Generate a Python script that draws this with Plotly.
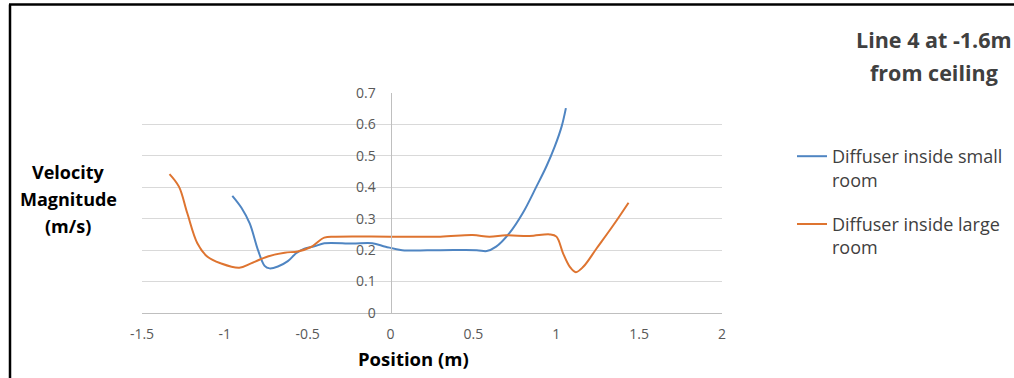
import plotly.graph_objects as go

# Data
small_x = [-0.955, -0.90, -0.85, -0.80, -0.76, -0.73, -0.68, -0.62, -0.57, -0.52, -0.46, -0.40, -0.23, -0.11, -0.03, 0.07, 0.30, 0.52, 0.58, 0.637, 0.717, 0.798, 0.88, 0.94, 0.991, 1.032, 1.058]
small_y = [0.373, 0.335, 0.285, 0.200, 0.150, 0.142, 0.148, 0.165, 0.190, 0.205, 0.212, 0.222, 0.221, 0.222, 0.211, 0.200, 0.200, 0.200, 0.197, 0.211, 0.254, 0.318, 0.402, 0.466, 0.530, 0.593, 0.652]

large_x = [-1.334, -1.277, -1.227, -1.166, -1.105, -1.024, -0.913, -0.842, -0.741, -0.639, -0.56, -0.48, -0.40, -0.33, 0.0, 0.30, 0.495, 0.596, 0.697, 0.839, 0.961, 1.001, 1.041, 1.082, 1.118, 1.163, 1.244, 1.345, 1.436]
large_y = [0.442, 0.402, 0.318, 0.222, 0.179, 0.158, 0.144, 0.158, 0.180, 0.192, 0.196, 0.210, 0.240, 0.243, 0.243, 0.243, 0.248, 0.243, 0.247, 0.245, 0.250, 0.243, 0.190, 0.147, 0.130, 0.147, 0.206, 0.280, 0.351]

x_ticks = [-1.5, -1, -0.5, 0, 0.5, 1, 1.5, 2]
x_tick_labels = ["-1.5", "-1", "-0.5", "0", "0.5", "1", "1.5", "2"]
y_ticks = [0, 0.1, 0.2, 0.3, 0.4, 0.5, 0.6, 0.7]
y_tick_labels = ["0", "0.1", "0.2", "0.3", "0.4", "0.5", "0.6", "0.7"]

series_names = ["Diffuser inside small<br>room", "Diffuser inside large<br>room"]
colors = ["#4F85C2", "#DE7430"]

W, H = 1014, 378
L, R, T, B = 142, 292, 93, 65
pw, ph = W - L - R, H - T - B

def px(xp):
    return (xp - L) / pw

def py(yp):
    return (H - B - yp) / ph

FONT = "Open Sans"

fig = go.Figure()
fig.add_trace(go.Scatter(x=small_x, y=small_y, mode="lines", name=series_names[0], legendgroup="a",
                         line=dict(color=colors[0], width=2, shape="spline", smoothing=1.0)))
fig.add_trace(go.Scatter(x=large_x, y=large_y, mode="lines", name=series_names[1], legendgroup="b",
                         line=dict(color=colors[1], width=2, shape="spline", smoothing=1.0)))

x_min, x_max = -1.5, 2
fig.update_layout(
    width=W, height=H,
    margin=dict(l=L, r=R, t=T, b=B, autoexpand=False),
    paper_bgcolor="white", plot_bgcolor="white",
    font=dict(family=FONT, color="#595959"),
    showlegend=True,
    legend=dict(x=px(792), y=py(138), xanchor="left", yanchor="top",
                font=dict(size=18, color="#404040", family=FONT),
                valign="top", tracegroupgap=18, bgcolor="rgba(0,0,0,0)"),
    xaxis=dict(range=[x_min, x_max], tickvals=x_ticks, ticktext=x_tick_labels,
               showgrid=False, zeroline=False, showline=True, linecolor="#bfbfbf", linewidth=1,
               ticks="", tickfont=dict(size=14, color="#595959"), ticklabelstandoff=8),
    yaxis=dict(range=[0, 0.7], tickvals=y_ticks, ticktext=y_tick_labels,
               showgrid=True, gridcolor="#d9d9d9", gridwidth=1, zeroline=False,
               showline=True, linecolor="#bfbfbf", linewidth=1,
               anchor="free", position=(0 - x_min) / (x_max - x_min),
               ticks="", tickfont=dict(size=14, color="#595959"), ticklabelstandoff=12),
)

# Title (two lines)
fig.add_annotation(x=px(934), y=py(40), xref="paper", yref="paper", text="<b>Line 4 at -1.6m</b>",
                   showarrow=False, xanchor="center", yanchor="middle",
                   font=dict(size=21.5, color="#404040", family=FONT))
fig.add_annotation(x=px(934), y=py(72), xref="paper", yref="paper", text="<b>from ceiling</b>",
                   showarrow=False, xanchor="center", yanchor="middle",
                   font=dict(size=21.5, color="#404040", family=FONT))

# Y-axis title lines
for txt, yy in [("Velocity", 172), ("Magnitude", 199), ("(m/s)", 226)]:
    fig.add_annotation(x=px(68), y=py(yy), xref="paper", yref="paper", text="<b>%s</b>" % txt,
                       showarrow=False, xanchor="center", yanchor="middle",
                       font=dict(size=18, color="#000000", family=FONT))

# X-axis title
fig.add_annotation(x=px(413), y=py(358), xref="paper", yref="paper", text="<b>Position (m)</b>",
                   showarrow=False, xanchor="center", yanchor="middle",
                   font=dict(size=18.5, color="#000000", family=FONT))

# Outer black frame (top and left edges)
fig.add_shape(type="line", xref="paper", yref="paper", x0=px(10), y0=py(400), x1=px(10), y1=py(4.5),
              line=dict(color="black", width=2.5))
fig.add_shape(type="line", xref="paper", yref="paper", x0=px(9), y0=py(4.5), x1=px(1030), y1=py(4.5),
              line=dict(color="black", width=2.5))

fig.write_html("out.html")
